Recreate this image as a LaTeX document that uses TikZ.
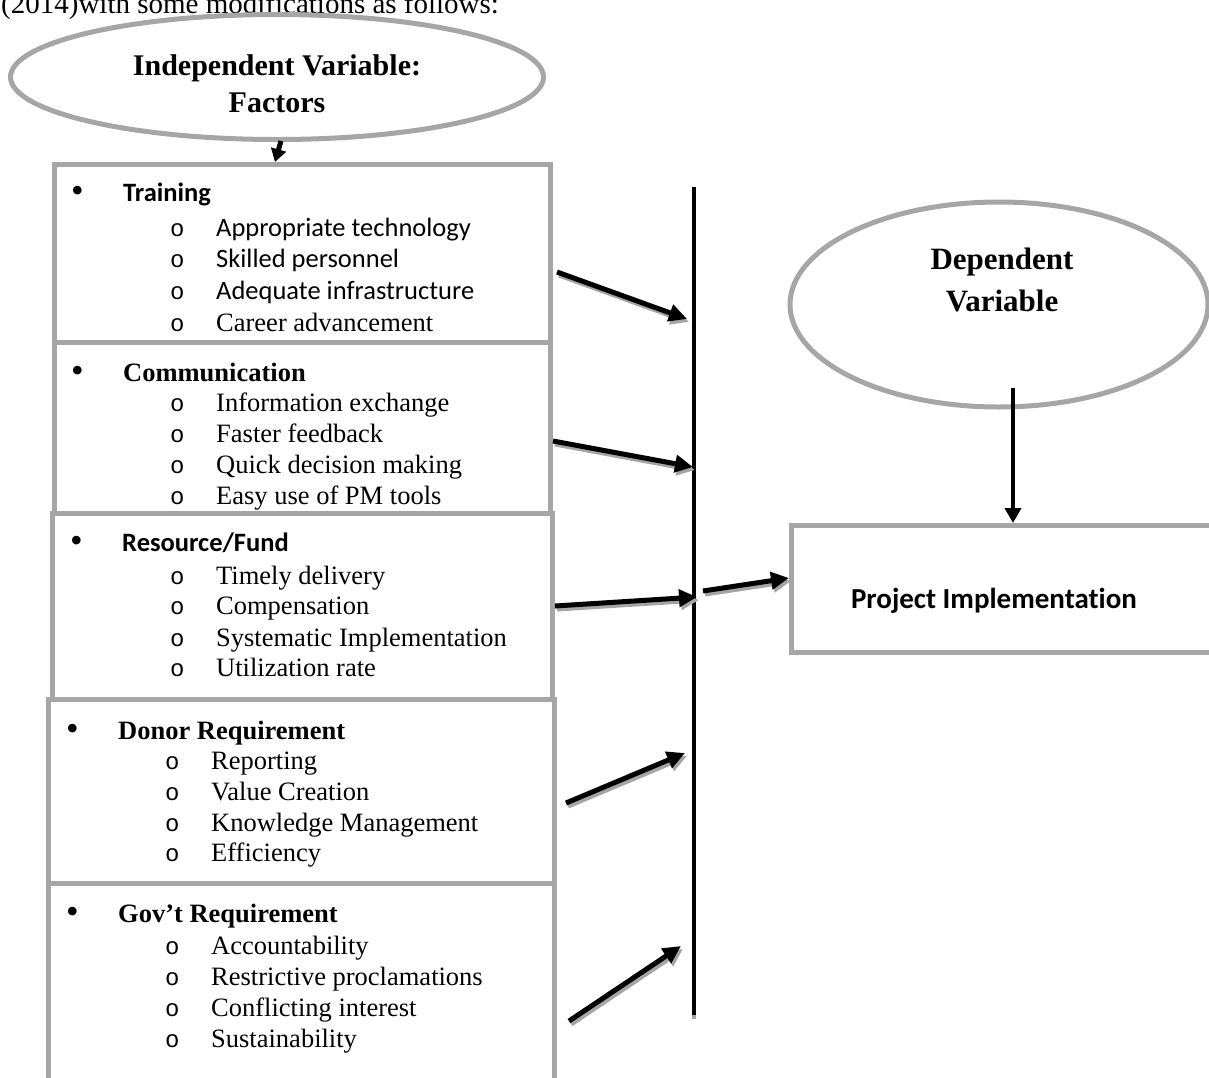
\documentclass[tikz,border=0pt]{standalone}
\usepackage{fontspec}
\setmainfont{Liberation Serif}
\newfontfamily\calib[Ligatures=NoCommon]{Carlito}
\newfontfamily\monof{Liberation Mono}
\usetikzlibrary{arrows.meta,shapes.geometric}
\definecolor{boxgray}{RGB}{166,166,166}
\definecolor{shadegray}{RGB}{165,165,165}
\newcommand\subo{\makebox[46pt][l]{{\monof\fontsize{24}{24}\selectfont o}}}
\newcommand\bul{\makebox[52pt][l]{{\fontsize{36}{36}\selectfont\raisebox{-1pt}{\textbullet}}}}
\begin{document}
\begin{tikzpicture}[x=1pt,y=-1pt,
  gbox/.style={draw=boxgray, line width=5pt, inner sep=0pt, anchor=north west},
  gell/.style={ellipse, draw=boxgray, line width=5pt, inner sep=0pt},
  txt/.style={anchor=base west, inner sep=0pt, font=\fontsize{26.5}{31}\selectfont},
  ttl/.style={anchor=base, inner sep=0pt, font=\fontsize{30}{36}\selectfont\bfseries},
  shtip/.style={-{Triangle[length=18pt,width=17pt]}},
  sharr/.style={line width=5pt, shtip,
     preaction={draw=shadegray, line width=5pt, shtip, transform canvas={shift={(2pt,-3pt)}}}},
  plainarr/.style={line width=4.5pt, -{Triangle[length=15pt,width=16pt]}}
]
\useasboundingbox (0,0) rectangle (1209,1077);
\clip (0,0) rectangle (1209,1077);

% caption line cut at the top
\node[anchor=base west, inner sep=0pt, font=\fontsize{29}{34}\selectfont] (cap) at (1,13) {(2014)with some modifications as follows:};

% independent variable ellipse
\node[gell, minimum width=533pt, minimum height=125pt] (indep) at (277,77) {};
\node[ttl] (indepA) at (277,75) {Independent Variable:};
\node[ttl] (indepB) at (277,112) {Factors};

% factor boxes
\node[gbox, minimum width=496pt, minimum height=178pt] (b1) at (52,162) {};
\node[gbox, minimum width=496pt, minimum height=171pt] (b2) at (52,340) {};
\node[gbox, minimum width=500pt, minimum height=186pt] (b3) at (50,511) {};
\node[gbox, minimum width=506pt, minimum height=184pt] (b4) at (46,697) {};
\node[gbox, minimum width=506pt, minimum height=230pt] (b5) at (46,881) {};

% box 1
\node[txt] (b1h) at (71,201) {\bul{\calib\bfseries Training}};
\node[txt] (b1a) at (170,236) {\subo{\calib Appropriate technology}};
\node[txt] (b1b) at (170,267) {\subo{\calib Skilled personnel}};
\node[txt] (b1c) at (170,299) {\subo{\calib Adequate infrastructure}};
\node[txt] (b1d) at (170,331) {\subo Career advancement};

% box 2
\node[txt] (b2h) at (71,381) {\bul\textbf{Communication}};
\node[txt] (b2a) at (170,411) {\subo Information exchange};
\node[txt] (b2b) at (170,442) {\subo Faster feedback};
\node[txt] (b2c) at (170,473) {\subo Quick decision making};
\node[txt] (b2d) at (170,504) {\subo Easy use of PM tools};

% box 3
\node[txt] (b3h) at (70,551) {\bul{\calib\bfseries Resource/Fund}};
\node[txt] (b3a) at (170,584) {\subo Timely delivery};
\node[txt] (b3b) at (170,614) {\subo Compensation};
\node[txt] (b3c) at (170,646) {\subo Systematic Implementation};
\node[txt] (b3d) at (170,676) {\subo Utilization rate};

% box 4
\node[txt] (b4h) at (66,739) {\bul\textbf{Donor Requirement}};
\node[txt] (b4a) at (165,769) {\subo Reporting};
\node[txt] (b4b) at (165,800) {\subo Value Creation};
\node[txt] (b4c) at (165,831) {\subo Knowledge Management};
\node[txt] (b4d) at (165,861) {\subo Efficiency};

% box 5
\node[txt] (b5h) at (66,922) {\bul\textbf{Gov’t Requirement}};
\node[txt] (b5a) at (165,954) {\subo Accountability};
\node[txt] (b5b) at (165,985) {\subo Restrictive proclamations};
\node[txt] (b5c) at (165,1016) {\subo Conflicting interest};
\node[txt] (b5d) at (165,1047) {\subo Sustainability};

% dependent variable
\node[gell, minimum width=418pt, minimum height=205pt] (dep) at (999,304.5) {};
\node[ttl, font=\fontsize{31}{36}\selectfont\bfseries] (depA) at (1002,269) {Dependent};
\node[ttl, font=\fontsize{31}{36}\selectfont\bfseries] (depB) at (1002,311) {Variable};

% project implementation
\node[gbox, minimum width=460pt, minimum height=127pt] (proj) at (789,523) {};
\node[anchor=base, inner sep=0pt, font=\fontsize{29}{34}\selectfont\calib\bfseries] (projT) at (994,608) {Project Implementation};

% vertical collector line
\coordinate (vt) at (694,187);
\coordinate (vb) at (694,1015);
\draw[line width=4.5pt, preaction={draw=shadegray, line width=4.5pt, transform canvas={shift={(0pt,-4pt)}}}] (vt) -- (vb);

% arrow end points
\coordinate (s1) at (557,272);  \coordinate (e1) at (687,319);
\coordinate (s2) at (553,441);  \coordinate (e2) at (693,467);
\coordinate (s3) at (555,606);  \coordinate (e3) at (697,597);
\coordinate (s4) at (703,591);  \coordinate (e4) at (789,578);
\coordinate (s5) at (566,803);  \coordinate (e5) at (685,753);
\coordinate (s6) at (569,1021); \coordinate (e6) at (681,946);
\coordinate (sd) at (1013,388); \coordinate (ed) at (1013,523);
\coordinate (st) at (281,141);  \coordinate (et) at (275,162);

\draw[sharr] (s1) -- (e1);
\draw[sharr] (s2) -- (e2);
\draw[sharr] (s3) -- (e3);
\draw[sharr] (s4) -- (e4);
\draw[sharr] (s5) -- (e5);
\draw[sharr] (s6) -- (e6);
\draw[plainarr] (sd) -- (ed);
\draw[line width=5pt, -{Triangle[length=13pt,width=15pt]}] (st) -- (et);
\end{tikzpicture}
\end{document}
